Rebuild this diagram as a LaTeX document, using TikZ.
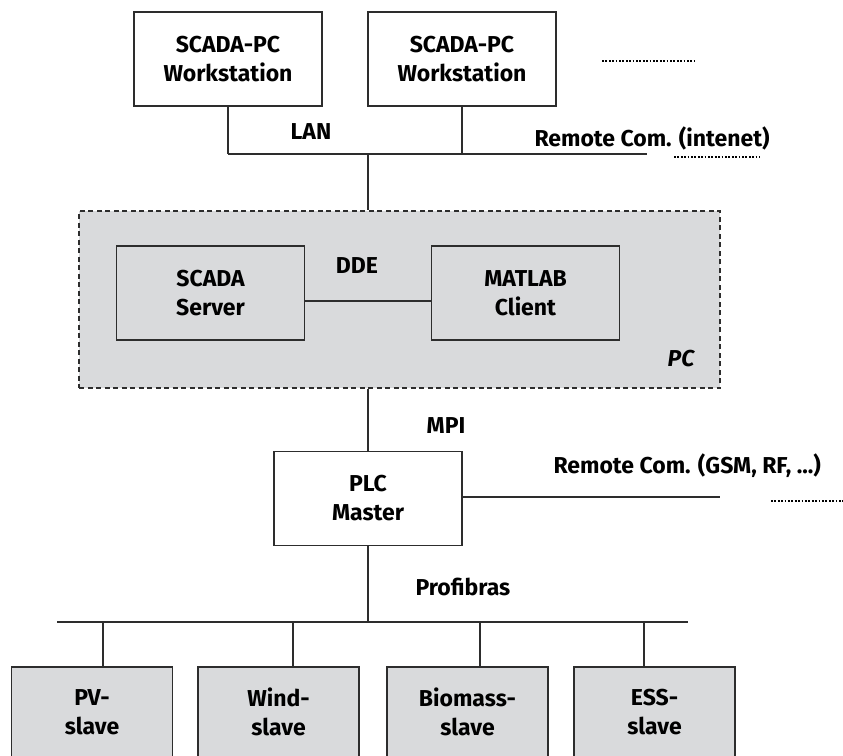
\documentclass[tikz,border=0pt]{standalone}
\usepackage{fontspec}
\setmainfont{Fira Sans}
\definecolor{boxgray}{RGB}{217,218,220}
\definecolor{linegray}{RGB}{45,45,45}
\begin{document}
\begin{tikzpicture}[x=1pt,y=-1pt,
  every node/.style={font=\fontsize{23}{29}\selectfont\bfseries, text=black},
  wsbox/.style={draw=linegray, line width=1.4pt, fill=white, align=center,
    minimum width=188pt, minimum height=94pt, inner sep=0pt},
  inbox/.style={wsbox, fill=boxgray},
  slavebox/.style={draw=linegray, line width=1.4pt, fill=boxgray, align=center,
    minimum width=161pt, minimum height=90pt, inner sep=0pt},
  pcbox/.style={draw=linegray, line width=1.3pt, fill=boxgray,
    dash pattern=on 5pt off 3.5pt, minimum width=641pt, minimum height=177pt, inner sep=0pt},
  wire/.style={draw=linegray, line width=1.4pt},
  dotline/.style={draw=black, line width=2pt, dash pattern=on 1.8pt off 1.6pt},
  lbl/.style={anchor=base},
  lblw/.style={anchor=base west}
]
\useasboundingbox (0,0) rectangle (843,755);
\clip (0,0) rectangle (843,755);

% workstations
\node[wsbox] (ws1) at (228,59) {SCADA-PC\\Workstation};
\node[wsbox] (ws2) at (462,59) {SCADA-PC\\Workstation};
\coordinate (dotsA) at (602,61);
\coordinate (dotsB) at (695,61);
\draw[dotline] (dotsA) -- (dotsB);

% LAN bus
\coordinate (lanL) at (228,154);
\coordinate (lanR) at (647,154);
\coordinate (lanPC) at (368,154);
\draw[wire] (ws1.south) -- (lanL);
\draw[wire] (ws2.south) -- (ws2.south |- lanL);
\draw[wire] (lanL) -- (lanR);
\node[lbl] (lan) at (311,139) {LAN};
\node[lblw] (rem1) at (531,146) {Remote Com. (intenet)};
\coordinate (remdA) at (674,157);
\coordinate (remdB) at (760,157);
\draw[dotline] (remdA) -- (remdB);

% PC
\node[pcbox] (pc) at (399.5,299.5) {};
\draw[wire] (lanPC) -- (lanPC |- pc.north);
\node[inbox] (srv) at (210.5,293) {SCADA\\Server};
\node[inbox] (mat) at (525.5,293) {MATLAB\\Client};
\draw[wire] ([yshift=-8pt]srv.east) -- ([yshift=-8pt]mat.west);
\node[lbl] (dde) at (357,273) {DDE};
\node[lbl] (pclbl) at (681,366) {\itshape PC};

% PLC
\node[wsbox] (plc) at (368,498.5) {PLC\\Master};
\draw[wire] (pc.south -| plc.north) -- (plc.north);
\node[lbl] (mpi) at (446,433) {MPI};
\coordinate (remL) at (720,497);
\draw[wire] (plc.east |- remL) -- (remL);
\node[lblw] (rem2) at (550,473) {Remote Com. (GSM, RF, ...)};
\coordinate (rem2A) at (771,501);
\coordinate (rem2B) at (843,501);
\draw[dotline] (rem2A) -- (rem2B);

% Profibus
\coordinate (busL) at (57,622);
\coordinate (busR) at (688,622);
\draw[wire] (plc.south) -- (plc.south |- busL);
\draw[wire] (busL) -- (busR);
\node[lblw] (prof) at (412,595) {Profibras};

% slaves
\node[slavebox] (pv)  at (92,712)    {PV-\\slave};
\node[slavebox] (wind) at (278.5,712) {Wind-\\slave};
\node[slavebox] (bio) at (467.5,712) {Biomass-\\slave};
\node[slavebox] (ess) at (654.5,712) {ESS-\\slave};
\coordinate (d1) at (103,622);
\coordinate (d2) at (293,622);
\coordinate (d3) at (480,622);
\coordinate (d4) at (644,622);
\draw[wire] (d1) -- (d1 |- pv.north);
\draw[wire] (d2) -- (d2 |- wind.north);
\draw[wire] (d3) -- (d3 |- bio.north);
\draw[wire] (d4) -- (d4 |- ess.north);
\end{tikzpicture}
\end{document}
